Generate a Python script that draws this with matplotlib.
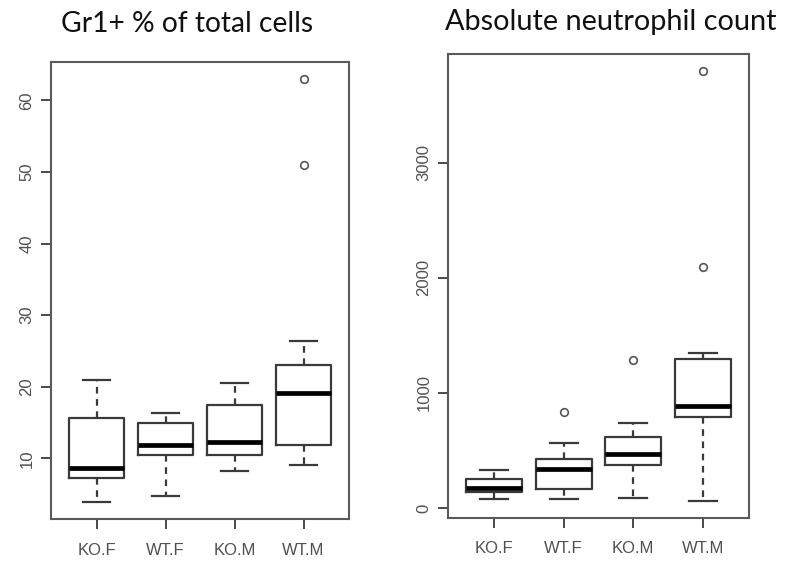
import matplotlib
matplotlib.use("Agg")
import matplotlib.pyplot as plt

# Groups shown on both panels
groups = ["KO.F", "WT.F", "KO.M", "WT.M"]

# Gr1+ % of total cells: five-number summaries per group
gr1_lo_whisker = [3.9, 4.7, 8.2, 9.1]
gr1_q1 = [7.2, 10.5, 10.5, 11.9]
gr1_median = [8.7, 11.8, 12.3, 19.2]
gr1_q3 = [15.7, 14.9, 17.5, 23.0]
gr1_hi_whisker = [21.0, 16.4, 20.5, 26.4]
gr1_outliers = [[], [], [], [51.0, 63.0]]

# Absolute neutrophil count: five-number summaries per group
anc_lo_whisker = [79, 73, 90, 64]
anc_q1 = [140, 160, 372, 787]
anc_median = [177, 340, 468, 886]
anc_q3 = [250, 421, 616, 1295]
anc_hi_whisker = [328, 566, 735, 1348]
anc_outliers = [[], [836], [1287], [2094, 3798]]

titles = ["Gr1+ % of total cells", "Absolute neutrophil count"]
gr1_ticks = [10, 20, 30, 40, 50, 60]
anc_ticks = [0, 1000, 2000, 3000]

INK = "#3a3a3a"
LABEL = "#505050"
TICK_FONT = ["Liberation Sans", "DejaVu Sans"]


def stats_for(lo, q1, med, q3, hi, out):
    return [
        dict(whislo=a, q1=b, med=c, q3=d, whishi=e, fliers=f, label=g)
        for a, b, c, d, e, f, g in zip(lo, q1, med, q3, hi, out, groups)
    ]


def r_style_box(ax, stats, ticks):
    ax.bxp(
        stats,
        positions=range(1, len(stats) + 1),
        widths=0.8,
        showfliers=True,
        boxprops=dict(color=INK, linewidth=1.6),
        medianprops=dict(color="black", linewidth=3.4, solid_capstyle="butt"),
        whiskerprops=dict(color=INK, linewidth=1.6, linestyle=(0, (3, 2.5))),
        capprops=dict(color=INK, linewidth=1.6),
        capwidths=0.4,
        flierprops=dict(marker="o", markersize=5.5, markerfacecolor="none",
                        markeredgecolor="#555555", markeredgewidth=1.2),
    )
    # data range padded by 4% like R's default axis style
    lo = min(min(s["whislo"] for s in stats),
             min([min(s["fliers"]) for s in stats if s["fliers"]], default=1e9))
    hi = max(max(s["whishi"] for s in stats),
             max([max(s["fliers"]) for s in stats if s["fliers"]], default=-1e9))
    pad = 0.04 * (hi - lo)
    ax.set_ylim(lo - pad, hi + pad)
    ax.set_xlim(0.5 - 0.16, 4.5 + 0.16)
    ax.set_yticks(ticks)
    ax.set_yticklabels([str(t) for t in ticks], rotation=90, va="center",
                       family=TICK_FONT)
    ax.set_xticks(range(1, len(groups) + 1))
    ax.set_xticklabels(groups, family=TICK_FONT)
    ax.tick_params(axis="both", colors=INK, labelcolor=LABEL, length=7,
                   width=1.3, labelsize=12)
    ax.tick_params(axis="x", pad=10)
    ax.tick_params(axis="y", pad=5)
    for sp in ax.spines.values():
        sp.set_color("#5a5a5a")
        sp.set_linewidth(1.5)


plt.rcParams["font.family"] = TICK_FONT
fig = plt.figure(figsize=(7.92, 5.61), dpi=100)

ax1 = fig.add_axes([0.0644, 0.0749, 0.3763, 0.8146])
ax2 = fig.add_axes([0.566, 0.0772, 0.3793, 0.8265])

r_style_box(ax1, stats_for(gr1_lo_whisker, gr1_q1, gr1_median, gr1_q3,
                           gr1_hi_whisker, gr1_outliers), gr1_ticks)
r_style_box(ax2, stats_for(anc_lo_whisker, anc_q1, anc_median, anc_q3,
                           anc_hi_whisker, anc_outliers), anc_ticks)

fig.text(187 / 792, 1 - 32 / 561, titles[0], ha="center", va="baseline",
         fontsize=20.3, family=["Lato", "DejaVu Sans"], color="#111111")
fig.text(611 / 792, 1 - 30 / 561, titles[1], ha="center", va="baseline",
         fontsize=20.8, family=["Lato", "DejaVu Sans"], color="#111111")

fig.savefig("out.png", dpi=100, facecolor="white")
